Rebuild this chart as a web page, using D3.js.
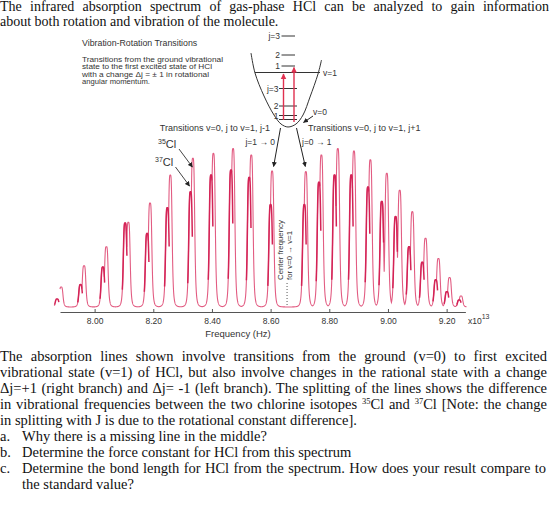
<!DOCTYPE html>
<html>
<head>
<meta charset="utf-8">
<script src="https://cdnjs.cloudflare.com/ajax/libs/d3/7.8.5/d3.min.js"></script>
<style>
  body { margin: 0; background: #fff; }
  svg { display: block; }
  .serif { font-family: "Liberation Serif", "Times New Roman", serif; font-size: 14.5px; fill: #111; }
  .sans { font-family: "Liberation Sans", Arial, sans-serif; fill: #333; }
</style>
</head>
<body>
<svg width="560" height="514"></svg>
<script>
// Peak positions (x10^13 Hz) and relative heights
// P branch (j -> j-1), j = 1..11
let p35Freq = [8.605, 8.534, 8.472, 8.405, 8.335, 8.258, 8.189, 8.115, 8.040, 7.964, 7.886];
let p35Height = [0.85, 0.95, 0.99, 0.96, 0.93, 0.825, 0.65, 0.53, 0.377, 0.258, 0.125];
let p37Freq = [8.600, 8.527, 8.465, 8.397, 8.327, 8.248, 8.179, 8.104, 8.028, 7.952, 7.872];
let p37Height = [0.64, 0.81, 0.856, 0.825, 0.72, 0.62, 0.46, 0.525, 0.25, 0.14, 0.05];
// R branch (j -> j+1), j = 0..11
let r35Freq = [8.720, 8.773, 8.829, 8.884, 8.940, 8.996, 9.040, 9.083, 9.128, 9.172, 9.210, 9.249];
let r35Height = [0.846, 0.95, 0.99, 0.975, 0.92, 0.836, 0.73, 0.596, 0.43, 0.303, 0.184, 0.069];
let r37Freq = [8.715, 8.765, 8.818, 8.875, 8.932, 8.979, 9.026, 9.072, 9.117, 9.163, 9.201, 9.243];
let r37Height = [0.64, 0.78, 0.825, 0.825, 0.75, 0.66, 0.565, 0.377, 0.28, 0.17, 0.096, 0.044];

let centerFreq = 8.656;
let tickVals = [8.00, 8.20, 8.40, 8.60, 8.80, 9.00, 9.20];

let svg = d3.select("svg");

let x = d3.scaleLinear().domain([7.882, 9.264]).range([60, 465.4]);
let y = d3.scaleLinear().domain([0, 1]).range([307, 147]);

// ---------- text above ----------
function justify(sel, w) {
  let node = sel.node();
  let natural = node.getComputedTextLength();
  let spaces = (node.textContent.match(/ /g) || []).length;
  sel.style("word-spacing", ((w - natural) / spaces) + "px");
}

let top1 = svg.append("text").attr("class", "serif").attr("x", 0).attr("y", 11)
  .style("font-size", "14px")
  .text("The infrared absorption spectrum of gas-phase HCl can be analyzed to gain information");
justify(top1, 549);
svg.append("text").attr("class", "serif").attr("x", 0).attr("y", 25.5)
  .style("font-size", "14px")
  .text("about both rotation and vibration of the molecule.");

// ---------- spectrum ----------
let g = 0.0068; // half width of a line
function profile(f, f0, h) {
  let d = (f - f0) / g;
  return h / (1 + d * d * d * d);
}
let all35 = p35Freq.map((f, i) => ({ f: f, h: p35Height[i] }))
  .concat(r35Freq.map((f, i) => ({ f: f, h: r35Height[i] })));
let all37 = p37Freq.map((f, i) => ({ f: f, h: p37Height[i] }))
  .concat(r37Freq.map((f, i) => ({ f: f, h: r37Height[i] })));

let grid = d3.range(7.882, 9.268, 0.0003);
let trace = grid.map(f => {
  let v = 0;
  all35.concat(all37).forEach(p => { v = Math.max(v, profile(f, p.f, p.h)); });
  return [f, v];
});

let line = d3.line().x(d => x(d[0])).y(d => y(d[1]));

svg.append("path")
  .attr("d", line(trace))
  .attr("fill", "none")
  .attr("stroke", "#e25c82")
  .attr("stroke-width", 1.1);

// darker 37Cl shoulders
all37.forEach(p => {
  let pts = d3.range(p.f - 1.4 * g, p.f + 0.9 * g, 0.0003).map(f => [f, profile(f, p.f, p.h)]);
  svg.append("path")
    .attr("d", line(pts))
    .attr("fill", "none")
    .attr("stroke", "#d42356")
    .attr("stroke-width", 1.5);
});

// ---------- axis ----------
let axisG = svg.append("g")
  .attr("transform", "translate(0,312)")
  .call(d3.axisBottom(x).tickValues(tickVals).tickFormat(d3.format(".2f"))
    .tickSizeInner(-3).tickSizeOuter(0).tickPadding(6));
axisG.select(".domain").attr("stroke", "#555");
axisG.selectAll(".tick line").attr("stroke", "#555");
axisG.selectAll(".tick text")
  .style("font-family", "Liberation Sans, Arial, sans-serif")
  .style("font-size", "8.5px").attr("fill", "#333");

let exp = svg.append("text").attr("class", "sans").attr("x", 468).attr("y", 324)
  .style("font-size", "8.5px");
exp.append("tspan").text("x10");
exp.append("tspan").attr("dy", -5).style("font-size", "7px").text("13");

svg.append("text").attr("class", "sans")
  .attr("x", 238).attr("y", 337).attr("text-anchor", "middle")
  .style("font-size", "9.5px").text("Frequency (Hz)");

// center frequency marker
svg.append("line")
  .attr("x1", x(centerFreq)).attr("x2", x(centerFreq))
  .attr("y1", 283).attr("y2", 307)
  .attr("stroke", "#555").attr("stroke-dasharray", "1,2");
svg.append("text").attr("class", "sans")
  .attr("transform", "translate(" + (x(centerFreq) - 4.5) + ",280) rotate(-90)")
  .style("font-size", "7.8px").text("Center frequency");
svg.append("text").attr("class", "sans")
  .attr("transform", "translate(" + (x(centerFreq) + 5) + ",280) rotate(-90)")
  .style("font-size", "7.8px").text("for v=0 \u2192 v=1");

// ---------- energy level diagram ----------
let defs = svg.append("defs");
defs.append("marker").attr("id", "blk").attr("viewBox", "0 0 10 10")
  .attr("refX", 9).attr("refY", 5).attr("markerWidth", 5).attr("markerHeight", 5)
  .attr("orient", "auto")
  .append("path").attr("d", "M0,0L10,5L0,10z").attr("fill", "#222");
defs.append("marker").attr("id", "red").attr("viewBox", "0 0 10 10")
  .attr("refX", 9).attr("refY", 5).attr("markerWidth", 4).attr("markerHeight", 5)
  .attr("orient", "auto")
  .append("path").attr("d", "M0,0L10,5L0,10z").attr("fill", "#e0304f");

let dg = svg.append("g").attr("class", "sans");

dg.append("text").attr("x", 82).attr("y", 46).style("font-size", "8.8px")
  .text("Vibration-Rotation Transitions");
let introLines = [
  { t: "Transitions from the ground vibrational", w: 141 },
  { t: "state to the first excited state of HCl", w: 130 },
  { t: "with a change \u0394j = \u00b1 1  in rotational", w: 127 },
  { t: "angular momentum.", w: 68 }
];
dg.selectAll(".intro").data(introLines).enter().append("text")
  .attr("class", "intro")
  .attr("x", 82).attr("y", (d, i) => 61.8 + i * 7.4)
  .attr("textLength", d => d.w).attr("lengthAdjust", "spacingAndGlyphs")
  .style("font-size", "7px").attr("fill", "#333")
  .text(d => d.t);

// potential well
let wellPts = [[251, 53], [255, 73], [264, 96], [274, 115], [281, 124], [288, 127],
  [296, 124], [303, 115], [310, 97], [318, 74], [321.5, 60]];
dg.append("path")
  .attr("d", d3.line().curve(d3.curveCatmullRom)(wellPts))
  .attr("fill", "none").attr("stroke", "#333").attr("stroke-width", 1);

// v=1 level and its rotational levels
dg.append("line").attr("x1", 255).attr("x2", 320).attr("y1", 72.5).attr("y2", 72.5)
  .attr("stroke", "#333");
dg.append("text").attr("x", 323).attr("y", 75.5).style("font-size", "8.5px").text("v=1");
let upperLevels = [{ lab: "j=3", y: 36 }, { lab: "2", y: 55 }, { lab: "1", y: 66 }];
upperLevels.forEach(l => {
  dg.append("line").attr("x1", 281.5).attr("x2", 295).attr("y1", l.y).attr("y2", l.y)
    .attr("stroke", "#333");
  dg.append("text").attr("x", 280).attr("y", l.y + 3).attr("text-anchor", "end")
    .style("font-size", "8.5px").text(l.lab);
});
let lowerLevels = [{ lab: "j=3", y: 88.5 }, { lab: "2", y: 106 }, { lab: "1", y: 115.5 }, { lab: "", y: 119.5 }];
lowerLevels.forEach(l => {
  dg.append("line").attr("x1", 279).attr("x2", 297).attr("y1", l.y).attr("y2", l.y)
    .attr("stroke", "#333");
  if (l.lab) dg.append("text").attr("x", 278.5).attr("y", l.y + 3).attr("text-anchor", "end")
    .style("font-size", "8.5px").text(l.lab);
});
dg.append("text").attr("x", 313).attr("y", 115).style("font-size", "8.5px").text("v=0");
dg.append("line").attr("x1", 313).attr("y1", 116).attr("x2", 303.5).attr("y2", 122.5)
  .attr("stroke", "#222").attr("marker-end", "url(#blk)");

// red transition arrows
dg.append("line").attr("x1", 283.5).attr("x2", 283.5).attr("y1", 120).attr("y2", 74)
  .attr("stroke", "#e0304f").attr("stroke-width", 1.4).attr("marker-end", "url(#red)");
dg.append("line").attr("x1", 294).attr("x2", 294).attr("y1", 122).attr("y2", 67.5)
  .attr("stroke", "#e0304f").attr("stroke-width", 1.4).attr("marker-end", "url(#red)");

// branch labels
dg.append("text").attr("x", 270).attr("y", 130.5).attr("text-anchor", "end")
  .style("font-size", "9px").text("Transitions v=0, j to v=1, j-1");
dg.append("text").attr("x", 308).attr("y", 130.5)
  .style("font-size", "9px").text("Transitions v=0, j to v=1, j+1");
dg.append("text").attr("x", 275).attr("y", 145).attr("text-anchor", "end")
  .style("font-size", "8.5px").text("j=1 \u2192 0");
dg.append("text").attr("x", 302).attr("y", 145)
  .style("font-size", "8.5px").text("j=0 \u2192 1");

// arrows from the well down to the first lines of each branch
dg.append("line").attr("x1", 280.5).attr("y1", 128).attr("x2", x(p35Freq[0]) + 1.5).attr("y2", 166.5)
  .attr("stroke", "#222").attr("marker-end", "url(#blk)");
dg.append("line").attr("x1", 296.5).attr("y1", 128).attr("x2", x(r35Freq[0]) - 0.5).attr("y2", 166.5)
  .attr("stroke", "#222").attr("marker-end", "url(#blk)");

// isotope labels
let l35 = dg.append("text").attr("x", 158).attr("y", 148);
l35.append("tspan").style("font-size", "7px").attr("dy", -4).text("35");
l35.append("tspan").style("font-size", "11px").attr("dy", 4).text("Cl");
let l37 = dg.append("text").attr("x", 155).attr("y", 166);
l37.append("tspan").style("font-size", "7px").attr("dy", -4).text("37");
l37.append("tspan").style("font-size", "11px").attr("dy", 4).text("Cl");
dg.append("line").attr("x1", 179).attr("y1", 149).attr("x2", x(p35Freq[4]) - 0.5).attr("y2", 167)
  .attr("stroke", "#444").attr("marker-end", "url(#blk)");
dg.append("line").attr("x1", 175.5).attr("y1", 167).attr("x2", x(p37Freq[4]) - 1).attr("y2", 186)
  .attr("stroke", "#444").attr("marker-end", "url(#blk)");

// ---------- text below ----------
let paraLines = [
  { t: "The absorption lines shown involve transitions from the ground (v=0) to first excited", j: true },
  { t: "vibrational state (v=1) of HCl, but also involve changes in the rational state with a change", j: true },
  { t: "\u0394j=+1 (right branch) and \u0394j= -1 (left branch). The splitting of the lines shows the difference", j: true },
  { t: null, j: true },
  { t: "in splitting with J is due to the rotational constant difference].", j: false }
];
let baseY = 361;
paraLines.forEach((l, i) => {
  let t = svg.append("text").attr("class", "serif").attr("x", 0).attr("y", baseY + i * 16);
  if (l.t) {
    t.text(l.t);
  } else {
    t.append("tspan").text("in vibrational frequencies between the two chlorine isotopes ");
    t.append("tspan").attr("dy", -5).style("font-size", "8.5px").text("35");
    t.append("tspan").attr("dy", 5).text("Cl and ");
    t.append("tspan").attr("dy", -5).style("font-size", "8.5px").text("37");
    t.append("tspan").attr("dy", 5).text("Cl [Note: the change");
  }
  if (l.j) justify(t, 547);
});

let items = [
  { m: "a.", t: "Why there is a missing line in the middle?", j: false },
  { m: "b.", t: "Determine the force constant for HCl from this spectrum", j: false },
  { m: "c.", t: "Determine the bond length for HCl from the spectrum. How does your result compare to", j: true },
  { m: "", t: "the standard value?", j: false }
];
items.forEach((it, i) => {
  let yy = baseY + (5 + i) * 16;
  svg.append("text").attr("class", "serif").attr("x", 0).attr("y", yy).text(it.m);
  let t = svg.append("text").attr("class", "serif").attr("x", 22).attr("y", yy).text(it.t);
  if (it.j) justify(t, 546 - 22);
});
</script>
</body>
</html>
